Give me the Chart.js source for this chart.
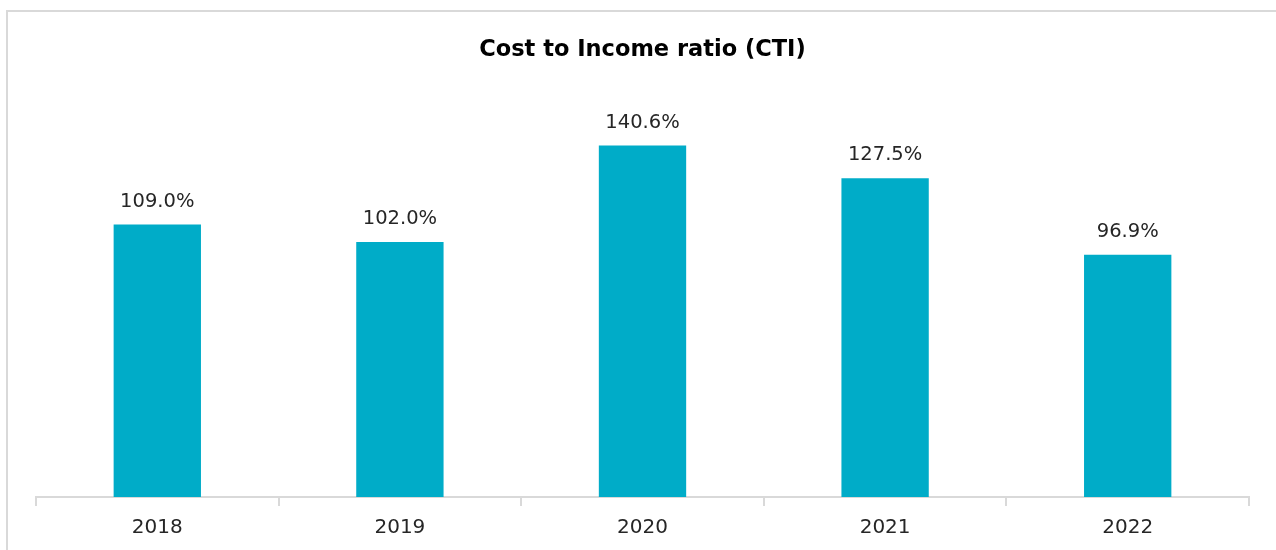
<!DOCTYPE html>
<html>
<head>
<meta charset="utf-8">
<script src="https://cdn.jsdelivr.net/npm/chart.js@4/dist/chart.umd.min.js"></script>
<style>
  html, body { margin: 0; padding: 0; background: #fff; overflow: hidden; }
  #wrap { position: relative; width: 1276px; height: 550px; }
  #frame { position: absolute; left: 6px; top: 10px; width: 1300px; height: 600px;
           border: 2px solid #d9d9d9; box-sizing: border-box; }
  canvas { position: absolute; left: 0; top: 0; }
</style>
</head>
<body>
<div id="wrap">
  <div id="frame"></div>
  <canvas id="chart" width="1276" height="550"></canvas>
</div>
<script>
const years = ['2018', '2019', '2020', '2021', '2022'];
const ctiValues = [109.0, 102.0, 140.6, 127.5, 96.9];
const chartTitle = 'Cost to Income ratio (CTI)';

const FONT = '"DejaVu Sans", Lato, sans-serif';

// Writes the percentage above each bar
const valueLabels = {
  id: 'valueLabels',
  afterDatasetsDraw(chart) {
    const ctx = chart.ctx;
    const meta = chart.getDatasetMeta(0);
    ctx.save();
    ctx.font = '19.5px ' + FONT;
    ctx.fillStyle = '#262626';
    ctx.textAlign = 'center';
    ctx.textBaseline = 'middle';
    meta.data.forEach((bar, i) => {
      ctx.fillText(ctiValues[i].toFixed(1) + '%', bar.x, bar.y - 23);
    });
    ctx.restore();
  }
};

new Chart(document.getElementById('chart'), {
  type: 'bar',
  data: {
    labels: years,
    datasets: [{
      data: ctiValues,
      backgroundColor: '#00acc8',
      borderWidth: 0,
      categoryPercentage: 1,
      barPercentage: 0.36
    }]
  },
  options: {
    responsive: false,
    animation: false,
    layout: { padding: { left: 36, right: 27, top: 0, bottom: 0 } },
    plugins: {
      legend: { display: false },
      tooltip: { enabled: false },
      title: {
        display: true,
        text: chartTitle,
        color: '#000',
        font: { family: FONT, size: 22.5, weight: 'bold', lineHeight: 1.2 },
        padding: { top: 36.5, bottom: 33.5 }
      }
    },
    scales: {
      x: {
        grid: {
          display: true,
          offset: true,
          drawOnChartArea: false,
          drawTicks: true,
          tickLength: 9,
          color: '#d9d9d9',
          lineWidth: 2
        },
        border: { display: true, color: '#d9d9d9', width: 2 },
        ticks: {
          color: '#262626',
          font: { family: FONT, size: 20 },
          padding: 10
        }
      },
      y: {
        display: false,
        min: 0,
        max: 160
      }
    }
  },
  plugins: [valueLabels]
});
</script>
</body>
</html>
